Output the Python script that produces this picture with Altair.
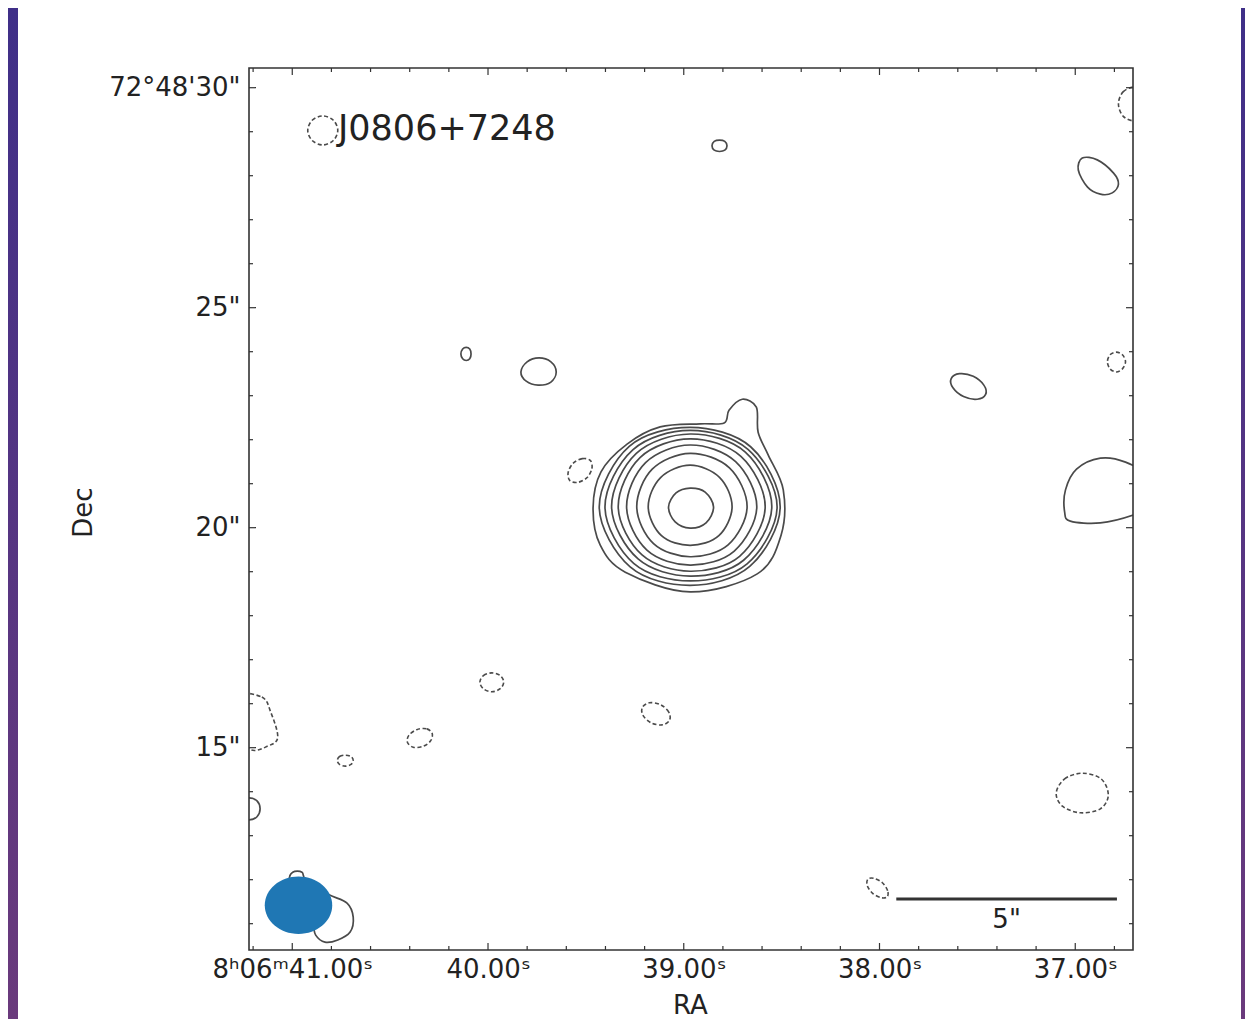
import altair as alt
import pandas as pd

# ---------------- coordinate frame ----------------
REF_RA_S = 39.00          # 8h06m39.00s
REF_DEC_AS = 20.00        # +72d48m20s
ARCSEC_PER_SEC = 4.4356   # 15 * cos(dec)
RA_RANGE = [41.221, 36.705]
DEC_RANGE = [10.402, 30.448]

# core of the source (offset from reference, arcsec; east positive)
CORE_E = -0.145
CORE_N = 0.47

# concentric positive contours around the core (arcsec offsets from the core)
RING_E = [
    [0.49, 0.32, 0.0, -0.34, -0.53, -0.36, 0.0, 0.34],
    [0.95, 0.67, 0.0, -0.67, -0.95, -0.65, 0.0, 0.65],
    [1.21, 0.86, 0.0, -0.89, -1.29, -0.86, 0.0, 0.83],
    [1.44, 1.01, 0.0, -1.03, -1.51, -1.00, 0.0, 0.98],
    [1.63, 1.13, 0.0, -1.15, -1.70, -1.12, 0.0, 1.09],
    [1.78, 1.22, 0.0, -1.25, -1.85, -1.21, 0.0, 1.18],
    [1.93, 1.30, 0.0, -1.31, -1.97, -1.29, 0.0, 1.28],
    [2.06, 1.38, 0.0, -1.37, -2.04, -1.35, 0.0, 1.36],
    [2.20, 2.02, 1.43, 0.68, -0.23, -0.77, -0.88, -1.18, -1.50, -1.54, -1.77,
     -2.11, -2.06, -1.52, 0.0, 1.47, 2.04],
]
RING_N = [
    [0.0, 0.32, 0.43, 0.34, 0.0, -0.36, -0.48, -0.34],
    [0.0, 0.67, 0.95, 0.67, 0.0, -0.65, -0.87, -0.65],
    [0.0, 0.86, 1.22, 0.89, 0.0, -0.86, -1.13, -0.83],
    [0.0, 1.01, 1.41, 1.03, 0.0, -1.00, -1.32, -0.98],
    [0.0, 1.13, 1.55, 1.15, 0.0, -1.12, -1.46, -1.09],
    [0.0, 1.22, 1.66, 1.25, 0.0, -1.21, -1.57, -1.18],
    [0.0, 1.30, 1.74, 1.31, 0.0, -1.29, -1.68, -1.28],
    [0.0, 1.38, 1.81, 1.37, 0.0, -1.35, -1.78, -1.36],
    [-0.02, 0.80, 1.43, 1.82, 1.89, 1.91, 2.20, 2.45, 2.27, 1.70, 1.18,
     0.39, -0.64, -1.52, -1.93, -1.48, -0.86],
]

# other positive contours (arcsec offsets from the reference position)
POS_E = [
    [-0.64, -0.69, -0.81, -0.93, -0.98, -0.93, -0.81, -0.69],
    [-9.03, -9.37, -9.74, -9.85, -9.71, -9.44, -9.15, -8.94],
    [5.05, 5.01, 4.93, 4.85, 4.82, 4.85, 4.93, 5.01],
    [3.69, 3.55, 3.28, 3.01, 2.89, 3.01, 3.30, 3.57],
    [-6.84, -6.80, -6.56, -6.25, -6.06, -6.10, -6.34, -6.65],
    [-10.58, -10.01, -9.44, -8.90, -8.65, -8.63, -8.76, -9.44, -10.19, -10.62],
    [10.10, 10.03, 9.85, 9.67, 9.60, 9.67, 9.85, 10.03],
    [8.93, 8.86, 8.65, 8.56, 8.06, 7.63, 7.49, 7.56, 7.84, 8.13, 8.34, 8.43, 8.74],
]
POS_N = [
    [8.68, 8.78, 8.81, 8.78, 8.68, 8.58, 8.55, 8.58],
    [8.40, 8.36, 8.06, 7.81, 7.61, 7.58, 7.74, 8.13],
    [3.95, 4.06, 4.10, 4.06, 3.95, 3.84, 3.80, 3.84],
    [3.54, 3.77, 3.86, 3.77, 3.54, 3.31, 3.24, 3.33],
    [3.03, 3.24, 3.44, 3.50, 3.39, 3.18, 2.98, 2.92],
    [1.13, 1.49, 1.58, 1.33, 0.86, 0.36, 0.15, 0.11, 0.29, 0.52],
    [-6.39, -6.21, -6.14, -6.21, -6.39, -6.57, -6.64, -6.57],
    [-8.01, -7.83, -7.83, -8.01, -8.33, -8.53, -8.85, -9.19, -9.37, -9.42, -9.26, -8.96, -8.42],
]

# negative (dashed) contours
NEG_E = [
    [8.52, 8.42, 8.18, 7.94, 7.84, 7.94, 8.18, 8.42],
    [-9.85, -9.96, -10.24, -10.52, -10.63, -10.52, -10.24, -9.96],
    [-9.60, -9.66, -9.80, -9.94, -10.01, -9.94, -9.80, -9.66],
    [2.12, 2.30, 2.51, 2.62, 2.58, 2.40, 2.19, 2.08],
    [4.62, 4.54, 4.35, 4.16, 4.08, 4.16, 4.35, 4.54],
    [5.70, 5.83, 6.05, 6.23, 6.26, 6.13, 5.91, 5.74],
    [7.85, 7.80, 7.67, 7.54, 7.49, 7.54, 7.67, 7.80],
    [0.32, 0.34, 0.53, 0.78, 0.94, 0.92, 0.73, 0.48],
    [10.17, 9.56, 9.36, 9.20, 9.42, 9.85, 10.29],
    [-8.44, -8.63, -9.03, -9.46, -9.62, -9.44, -8.99, -8.58],
    [-4.61, -4.62, -4.50, -4.31, -4.17, -4.16, -4.28, -4.47],
]
NEG_N = [
    [9.03, 9.26, 9.36, 9.26, 9.03, 8.80, 8.70, 8.80],
    [9.63, 9.91, 10.02, 9.91, 9.63, 9.35, 9.24, 9.35],
    [3.77, 3.93, 3.99, 3.93, 3.77, 3.61, 3.54, 3.61],
    [1.53, 1.57, 1.46, 1.25, 1.07, 1.03, 1.14, 1.35],
    [-3.51, -3.36, -3.30, -3.36, -3.51, -3.66, -3.73, -3.66],
    [-4.68, -4.57, -4.59, -4.72, -4.88, -4.99, -4.97, -4.85],
    [-5.29, -5.20, -5.17, -5.20, -5.29, -5.38, -5.42, -5.38],
    [-4.37, -4.19, -4.02, -3.98, -4.09, -4.27, -4.44, -4.48],
    [-3.80, -3.85, -4.19, -4.76, -4.96, -5.03, -4.42],
    [-6.03, -5.71, -5.58, -5.71, -6.08, -6.39, -6.48, -6.33],
    [-8.39, -8.25, -8.07, -7.97, -7.99, -8.14, -8.31, -8.41],
]

# restoring beam
BEAM_E = 8.73
BEAM_N = -8.58
BEAM_MAJ = 1.53
BEAM_MIN = 1.30

# scale bar
SCALEBAR_ARCSEC = 5.0
SCALEBAR_END_RA = 36.787
SCALEBAR_DEC = 11.56
SCALEBAR_LABEL = '5"'

SOURCE_NAME = "J0806+7248"

RA_MAJOR = [41, 40, 39, 38, 37]
RA_LABELS = ["8ʰ06ᵐ41.00ˢ", "40.00ˢ", "39.00ˢ", "38.00ˢ", "37.00ˢ"]
RA_MINOR = [41.2, 40.8, 40.6, 40.4, 40.2, 39.8, 39.6, 39.4, 39.2, 38.8, 38.6,
            38.4, 38.2, 37.8, 37.6, 37.4, 37.2, 36.8]
DEC_MAJOR = [30, 25, 20, 15]
DEC_LABELS = ["72°48'30\"", '25"', '20"', '15"']
DEC_MINOR = [11, 12, 13, 14, 16, 17, 18, 19, 21, 22, 23, 24, 26, 27, 28, 29]

# ---------------- build tables ----------------
W, H = 884, 882
FONT = "DejaVu Sans"
INK = "#222222"
LINE = "#4a4a4a"


def to_ra(e):
    return REF_RA_S + e / ARCSEC_PER_SEC


def to_dec(n):
    return REF_DEC_AS + n


pos_rows, neg_rows = [], []
for i, (es, ns) in enumerate(zip(RING_E, RING_N)):
    for k, (e, n) in enumerate(zip(es, ns)):
        pos_rows.append(dict(cid=f"ring{i}", k=k, ra=to_ra(CORE_E + e), dec=to_dec(CORE_N + n)))
for i, (es, ns) in enumerate(zip(POS_E, POS_N)):
    for k, (e, n) in enumerate(zip(es, ns)):
        pos_rows.append(dict(cid=f"pos{i}", k=k, ra=to_ra(e), dec=to_dec(n)))
for i, (es, ns) in enumerate(zip(NEG_E, NEG_N)):
    for k, (e, n) in enumerate(zip(es, ns)):
        neg_rows.append(dict(cid=f"neg{i}", k=k, ra=to_ra(e), dec=to_dec(n)))
pos_df = pd.DataFrame(pos_rows)
neg_df = pd.DataFrame(neg_rows)

beam_df = pd.DataFrame({"ra": [to_ra(BEAM_E)], "dec": [to_dec(BEAM_N)], "maj": [BEAM_MAJ]})
bar_start = SCALEBAR_END_RA + SCALEBAR_ARCSEC / ARCSEC_PER_SEC
bar_df = pd.DataFrame({"ra": [bar_start], "ra2": [SCALEBAR_END_RA],
                       "mid": [(bar_start + SCALEBAR_END_RA) / 2],
                       "dec": [SCALEBAR_DEC], "label": [SCALEBAR_LABEL]})
dummy = pd.DataFrame({"d": [0]})


def esc(s):
    return s.replace("\\", "\\\\").replace("'", "\\'")


def label_expr(values, labels):
    expr = "''"
    for v, lab in reversed(list(zip(values, labels))):
        expr = f"abs(datum.value - {v}) < 1e-6 ? '{esc(lab)}' : ({expr})"
    return expr


xs = alt.Scale(domain=RA_RANGE, nice=False, zero=False)
ys = alt.Scale(domain=DEC_RANGE, nice=False, zero=False)

x_axis = alt.Axis(values=RA_MAJOR, labelExpr=label_expr(RA_MAJOR, RA_LABELS),
                  ticks=False, tickSize=0, domain=False, grid=False,
                  labelPadding=6, labelFontSize=26, labelFont=FONT, labelColor=INK,
                  labelOverlap=False, labelFlush=False, labelBound=False,
                  title="RA", titleFont=FONT, titleFontSize=26, titleFontWeight="normal",
                  titleColor=INK, titleX=441, titleY=55, titleBaseline="middle",
                  titleAlign="center", zindex=1)
y_axis = alt.Axis(values=DEC_MAJOR, labelExpr=label_expr(DEC_MAJOR, DEC_LABELS),
                  ticks=False, tickSize=0, domain=False, grid=False,
                  labelPadding=9, labelFontSize=26, labelFont=FONT, labelColor=INK,
                  labelOverlap=False, labelFlush=False, labelBound=False,
                  title="Dec", titleFont=FONT, titleFontSize=26, titleFontWeight="normal",
                  titleColor=INK, titleX=-166, titleY=444, titleAngle=270,
                  titleBaseline="middle", titleAlign="center", zindex=1)

X = lambda f: alt.X(f, scale=xs, axis=x_axis)
Y = lambda f: alt.Y(f, scale=ys, axis=y_axis)

# ---------------- layers ----------------
grad = {"gradient": "linear", "x1": 0, "y1": 0, "x2": 0, "y2": 1,
        "stops": [{"offset": 0, "color": "#3f2f88"}, {"offset": 1, "color": "#6a3a7c"}]}
strip_l = alt.Chart(dummy).mark_rect(fill=grad).encode(
    x=alt.value(-241), x2=alt.value(-231), y=alt.value(-60), y2=alt.value(951))
strip_r = alt.Chart(dummy).mark_rect(fill=grad).encode(
    x=alt.value(992), x2=alt.value(996), y=alt.value(-60), y2=alt.value(951))

pos = alt.Chart(pos_df).mark_line(
    interpolate="cardinal-closed", clip=True, color=LINE, strokeWidth=1.7
).encode(x=X("ra:Q"), y=Y("dec:Q"), detail="cid:N", order="k:Q")

neg = alt.Chart(neg_df).mark_line(
    interpolate="cardinal-closed", clip=True, color=LINE, strokeWidth=1.6,
    strokeDash=[4, 2.5]
).encode(x=X("ra:Q"), y=Y("dec:Q"), detail="cid:N", order="k:Q")

aspect = BEAM_MIN / BEAM_MAJ
c = 0.5523
ellipse_path = (f"M-1,0C-1,{-c*aspect:.4f} {-c:.4f},{-aspect:.4f} 0,{-aspect:.4f}"
                f"C{c:.4f},{-aspect:.4f} 1,{-c*aspect:.4f} 1,0"
                f"C1,{c*aspect:.4f} {c:.4f},{aspect:.4f} 0,{aspect:.4f}"
                f"C{-c:.4f},{aspect:.4f} -1,{c*aspect:.4f} -1,0Z")
beam = alt.Chart(beam_df).mark_point(
    shape=ellipse_path, filled=True, fill="#1f77b4", opacity=1, strokeWidth=0
).encode(
    x=X("ra:Q"), y=Y("dec:Q"),
    size=alt.Size("maj:Q", scale=alt.Scale(type="pow", exponent=2, domain=[0, 2],
                                           range=[0, (2 * 44.1) ** 2]), legend=None))

bar = alt.Chart(bar_df).mark_rule(color="#333333", strokeWidth=3).encode(
    x=X("ra:Q"), x2="ra2:Q", y=Y("dec:Q"))
bar_txt = alt.Chart(bar_df).mark_text(
    baseline="top", align="center", dy=8, fontSize=26, font=FONT, color=INK
).encode(x=X("mid:Q"), y=Y("dec:Q"), text="label:N")

title = alt.Chart(dummy).mark_text(
    align="left", baseline="alphabetic", fontSize=35, font=FONT, color=INK
).encode(x=alt.value(89), y=alt.value(71.5), text=alt.value(SOURCE_NAME))

frame = alt.Chart(dummy).mark_rect(fillOpacity=0, stroke="#333333", strokeWidth=1.6).encode(
    x=alt.value(0), x2=alt.value(W), y=alt.value(0), y2=alt.value(H))

TICK = "#333333"
ra_major_df = pd.DataFrame({"ra": RA_MAJOR})
ra_minor_df = pd.DataFrame({"ra": RA_MINOR})
dec_major_df = pd.DataFrame({"dec": DEC_MAJOR})
dec_minor_df = pd.DataFrame({"dec": DEC_MINOR})

tick_layers = []
for df, ln in [(ra_major_df, 7), (ra_minor_df, 4)]:
    tick_layers.append(alt.Chart(df).mark_rule(color=TICK, strokeWidth=1.2).encode(
        x=X("ra:Q"), y=alt.value(H), y2=alt.value(H - ln)))
    tick_layers.append(alt.Chart(df).mark_rule(color=TICK, strokeWidth=1.2).encode(
        x=X("ra:Q"), y=alt.value(0), y2=alt.value(ln)))
for df, ln in [(dec_major_df, 7), (dec_minor_df, 4)]:
    tick_layers.append(alt.Chart(df).mark_rule(color=TICK, strokeWidth=1.2).encode(
        y=Y("dec:Q"), x=alt.value(0), x2=alt.value(ln)))
    tick_layers.append(alt.Chart(df).mark_rule(color=TICK, strokeWidth=1.2).encode(
        y=Y("dec:Q"), x=alt.value(W), x2=alt.value(W - ln)))

chart = alt.layer(strip_l, strip_r, pos, neg, beam, bar, bar_txt, title, frame,
                  *tick_layers).properties(
    width=W, height=H,
    padding={"left": 241, "top": 60, "right": 112, "bottom": 69},
    autosize=alt.AutoSizeParams(type="none"),
    background="white",
).configure_view(strokeWidth=0)

chart.save("out.html", embed_options={"renderer": "svg", "actions": False})
